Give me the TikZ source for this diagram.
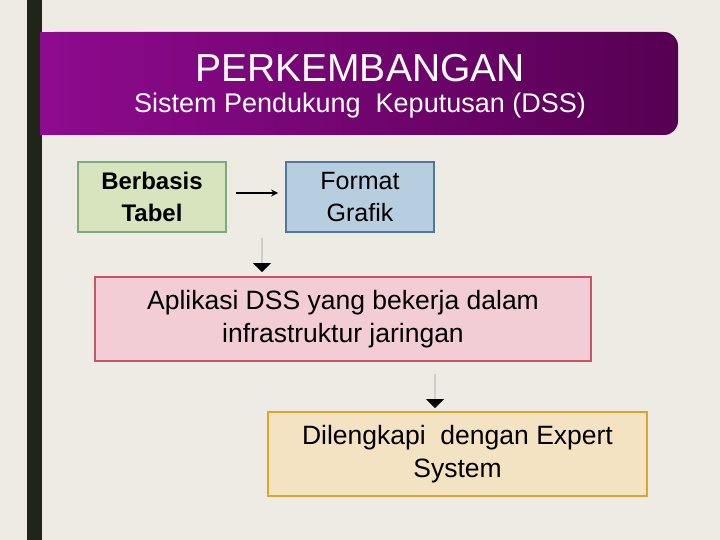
\documentclass[tikz,border=0pt]{standalone}
\usepackage{fontspec}
\setmainfont{Liberation Sans}
\usetikzlibrary{shapes.arrows}
\definecolor{bg}{HTML}{EEEBE4}
\definecolor{bar}{HTML}{1F2419}
\definecolor{purA}{HTML}{8E0A8E}
\definecolor{purB}{HTML}{560052}
\begin{document}
\begin{tikzpicture}[x=1pt,y=-1pt,
  box/.style={draw,line width=2pt,align=center,inner sep=0pt,font=\fontsize{26.5}{33}\selectfont},
  blk/.style={single arrow,draw=none,fill=black,rotate=-90,minimum height=34pt,minimum width=18pt,single arrow head extend=8pt,single arrow tip angle=90,inner sep=0pt,shape border uses incircle=false}]
\fill[bg] (0,0) rectangle (720,540);
\useasboundingbox (0,0) rectangle (720,540);
\fill[bar] (27,0) rectangle (42,540);
\shade[left color=purA,right color=purB,rounded corners=14pt] (40,32) rectangle (678,135);
\fill[purA] (40,32) rectangle (60,135);
\node[text=white,font=\fontsize{39}{44}\selectfont] (t) at (360,68) {PERKEMBANGAN};
\node[text=white,font=\fontsize{27}{30}\selectfont] (s) at (360,106) {Sistem Pendukung\ \ Keputusan (DSS)};
\node[box,draw=gray!50!green!60!black!60,fill={rgb,255:red,215;green,228;blue,189},minimum width=148pt,minimum height=70pt,font=\bfseries\fontsize{24}{32}\selectfont] (b1) at (152,197) {Berbasis\\Tabel};
\node[box,draw={rgb,255:red,79;green,120;blue,160},fill={rgb,255:red,183;green,205;blue,224},minimum width=148pt,minimum height=70pt,font=\fontsize{25}{32}\selectfont] (b2) at (360,197) {Format\\Grafik};
\coordinate (a1) at (236,193); \coordinate (a2) at (278,193);
\draw[line width=2pt,-stealth] (a1) -- (a2);
\node[box,draw={rgb,255:red,200;green,85;blue,100},fill={rgb,255:red,242;green,205;blue,213},minimum width=496pt,minimum height=84pt] (b3) at (343,319) {Aplikasi DSS yang bekerja dalam\\infrastruktur jaringan};
\node[box,draw={rgb,255:red,222;green,165;blue,45},fill={rgb,255:red,244;green,227;blue,195},minimum width=379pt,minimum height=84pt] (b4) at (457.5,454) {Dilengkapi\ \ dengan Expert\\System};
\node[blk] (d1) at (262,255) {};
\node[blk] (d2) at (435,391) {};
\end{tikzpicture}
\end{document}
